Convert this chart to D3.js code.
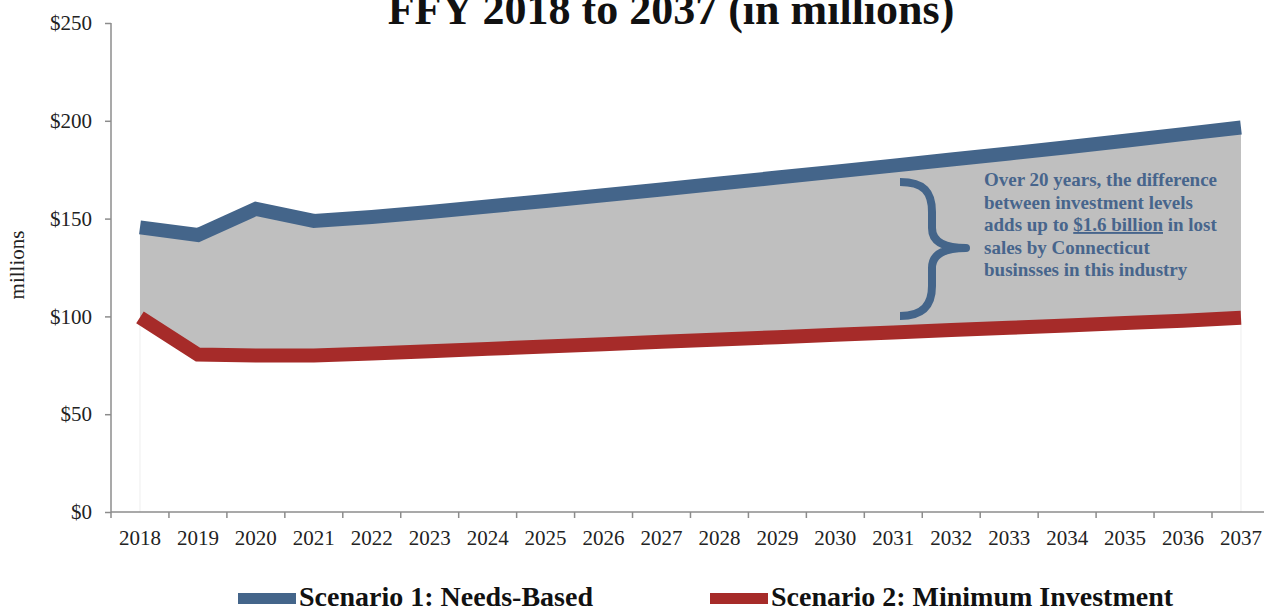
<!DOCTYPE html>
<html>
<head>
<meta charset="utf-8">
<script src="https://cdn.jsdelivr.net/npm/d3@7/dist/d3.min.js"></script>
<style>
html,body{margin:0;padding:0;background:#fff;}
svg{display:block;}
text{font-family:"Liberation Serif","Times New Roman",serif;}
</style>
</head>
<body>
<svg id="chart" width="1264" height="609"></svg>
<script>
const years = ["2018","2019","2020","2021","2022","2023","2024","2025","2026","2027","2028","2029","2030","2031","2032","2033","2034","2035","2036","2037"];
const needsBased = [145.5,141.6,155.0,148.8,150.8,153.4,156.2,159.0,161.9,164.9,167.9,171.0,174.0,177.1,180.2,183.3,186.5,189.8,193.2,196.6];
const minimum = [99.5,80.5,80.0,80.0,81.0,82.2,83.4,84.6,85.8,87.0,88.2,89.4,90.6,91.8,93.0,94.2,95.4,96.6,97.8,99.3];
const yTicks = [0,50,100,150,200,250];
const title = "FFY 2018 to 2037 (in millions)";
const seriesNames = ["Scenario 1: Needs-Based","Scenario 2: Minimum Investment"];
const noteLines = [["Over 20 years, the difference"],["between investment levels"],["adds up to ","$1.6 billion"," in lost"],["sales by Connecticut"],["businsses in this industry"]];

(function(){
const blue = "#44658a", red = "#a62b29", gray = "#bfbfbf", axisCol = "#8c8c8c", noteCol = "#47658c";
const svg = d3.select("#chart");
const pLeft = 111, pTop = 23, pBottom = 512;
const step = (1241 - 140) / 19;
const x = d3.scaleBand().domain(years).range([pLeft, pLeft + step * years.length]).paddingInner(0).paddingOuter(0);
const y = d3.scaleLinear().domain([0, 250]).range([pBottom, pTop]);
const cx = d => x(d) + x.bandwidth() / 2;

const data = years.map((yr, i) => ({yr, a: needsBased[i], b: minimum[i]}));

// title
svg.append("text").attr("x", 671).attr("y", 24).attr("text-anchor", "middle")
  .attr("font-size", 44).attr("font-weight", "bold").attr("fill", "#111").text(title);

// faint edges of the lower (white) stacked area
[data[0], data[data.length-1]].forEach(d => {
  svg.append("line").attr("x1", cx(d.yr)).attr("x2", cx(d.yr)).attr("y1", y(0)).attr("y2", y(d.b))
    .attr("stroke", "#eeeeee").attr("stroke-width", 1);
});

// gray band
svg.append("path").datum(data)
  .attr("d", d3.area().x(d => cx(d.yr)).y0(d => y(d.b)).y1(d => y(d.a)))
  .attr("fill", gray);

// lines
const line = key => d3.line().x(d => cx(d.yr)).y(d => y(d[key]));
svg.append("path").datum(data).attr("d", line("a")).attr("fill", "none")
  .attr("stroke", blue).attr("stroke-width", 14).attr("stroke-linejoin", "miter").attr("stroke-linecap", "butt");
svg.append("path").datum(data).attr("d", line("b")).attr("fill", "none")
  .attr("stroke", red).attr("stroke-width", 14).attr("stroke-linejoin", "miter").attr("stroke-linecap", "butt");

// y axis
const yAxis = svg.append("g").attr("transform", `translate(${pLeft},0)`)
  .call(d3.axisLeft(y).tickValues(yTicks).tickSize(6).tickPadding(13).tickFormat(d => "$" + d));
yAxis.select(".domain").attr("stroke", axisCol).attr("stroke-width", 1.5).attr("d", `M0,${pTop}V${pBottom}`);
yAxis.selectAll(".tick line").attr("stroke", axisCol).attr("stroke-width", 1.5);
yAxis.selectAll(".tick text").attr("font-size", 21).attr("fill", "#222")
  .attr("font-family", "Liberation Serif, serif");

// x axis
const xAxis = svg.append("g").attr("transform", `translate(0,${pBottom})`)
  .call(d3.axisBottom(x).tickSize(0).tickPadding(18));
xAxis.select(".domain").attr("stroke", axisCol).attr("stroke-width", 1.5).attr("d", `M${pLeft},0H1264`);
xAxis.selectAll(".tick text").attr("font-size", 21).attr("fill", "#222")
  .attr("font-family", "Liberation Serif, serif");
const bounds = years.map(d => x(d)).concat([x(years[years.length-1]) + x.bandwidth()]);
xAxis.selectAll("line.bt").data(bounds).enter().append("line").attr("class", "bt")
  .attr("x1", d => d).attr("x2", d => d).attr("y1", 0).attr("y2", 6)
  .attr("stroke", axisCol).attr("stroke-width", 1.5);

// y label
svg.append("text").attr("transform", "translate(24,265) rotate(-90)").attr("text-anchor", "middle")
  .attr("font-size", 21).attr("fill", "#222").text("millions");

// brace
const brace = "M900,182 C924,182 932,192 932,212 L932,228 C932,242 944,248 966,248 M966,248 C944,248 932,254 932,268 L932,286 C932,304 924,316 900,316";
svg.append("path").attr("d", brace).attr("fill", "none").attr("stroke", blue)
  .attr("stroke-width", 8).attr("stroke-linecap", "butt").attr("stroke-linejoin", "round");
svg.append("circle").attr("cx", 966).attr("cy", 248).attr("r", 4).attr("fill", blue);

// note text
const note = svg.append("text").attr("font-size", 19).attr("font-weight", "bold").attr("fill", noteCol);
noteLines.forEach((parts, i) => {
  parts.forEach((p, j) => {
    const ts = note.append("tspan").text(p);
    if (j === 0) ts.attr("x", 984).attr("y", 186 + i * 22.5);
    if (j === 1) ts.attr("text-decoration", "underline");
  });
});

// legend
const legend = [{name: seriesNames[0], color: blue, x: 238}, {name: seriesNames[1], color: red, x: 710}];
legend.forEach(l => {
  svg.append("rect").attr("x", l.x).attr("y", 593).attr("width", 58).attr("height", 11).attr("fill", l.color);
  svg.append("text").attr("x", l.x + 61).attr("y", 606).attr("font-size", 28).attr("font-weight", "bold")
    .attr("fill", "#111").text(l.name);
});
})();
</script>
</body>
</html>
